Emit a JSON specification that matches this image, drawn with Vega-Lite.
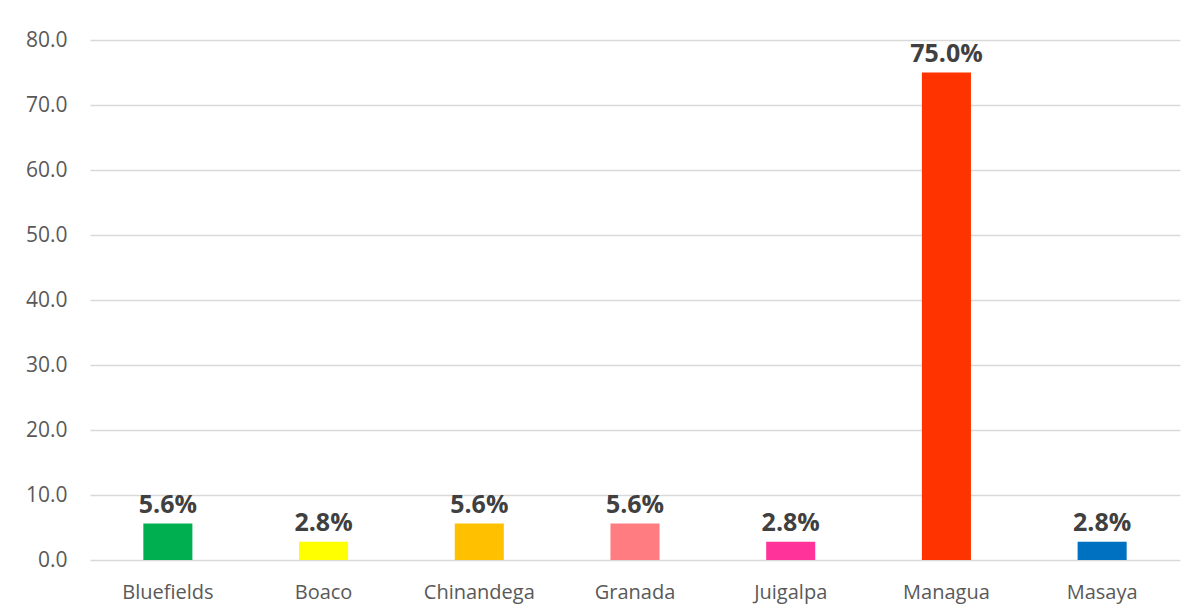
{
  "$schema": "https://vega.github.io/schema/vega-lite/v6.json",
  "autosize": "none",
  "padding": {"left": 90, "top": 40, "right": 18, "bottom": 56},
  "width": 1090,
  "height": 520,
  "background": "white",
  "config": {"view": {"stroke": null}, "font": "Open Sans"},
  "data": {"values": [
    {"ciudad": "Bluefields", "valor": 5.6, "etiqueta": "5.6%", "color": "#00B050"},
    {"ciudad": "Boaco", "valor": 2.8, "etiqueta": "2.8%", "color": "#FFFF00"},
    {"ciudad": "Chinandega", "valor": 5.6, "etiqueta": "5.6%", "color": "#FFC000"},
    {"ciudad": "Granada", "valor": 5.6, "etiqueta": "5.6%", "color": "#FF7C80"},
    {"ciudad": "Juigalpa", "valor": 2.8, "etiqueta": "2.8%", "color": "#FF3399"},
    {"ciudad": "Managua", "valor": 75.0, "etiqueta": "75.0%", "color": "#FF3300"},
    {"ciudad": "Masaya", "valor": 2.8, "etiqueta": "2.8%", "color": "#0070C0"}
  ]},
  "encoding": {
    "x": {"field": "ciudad", "type": "nominal", "sort": null,
      "scale": {"paddingInner": 0.685, "paddingOuter": 0.3425},
      "axis": {"title": null, "labelAngle": 0, "domain": false, "ticks": false, "labelFontSize": 20, "labelColor": "#595959", "labelPadding": 22, "labelFont": "Open Sans"}},
    "y": {"field": "valor", "type": "quantitative",
      "scale": {"domain": [0, 80]},
      "axis": {"title": null, "tickCount": 8, "format": ".1f", "domain": false, "ticks": false, "gridColor": "#D9D9D9", "gridWidth": 1.5, "labelFontSize": 21, "labelColor": "#595959", "labelPadding": 23, "labelFont": "Open Sans"}}
  },
  "layer": [
    {"mark": {"type": "bar"}, "encoding": {"color": {"field": "color", "type": "nominal", "scale": null}}},
    {"mark": {"type": "text", "baseline": "alphabetic", "dy": -11, "fontSize": 25, "fontWeight": "bold", "color": "#404040", "font": "Open Sans"},
     "encoding": {"text": {"field": "etiqueta"}}}
  ]
}
